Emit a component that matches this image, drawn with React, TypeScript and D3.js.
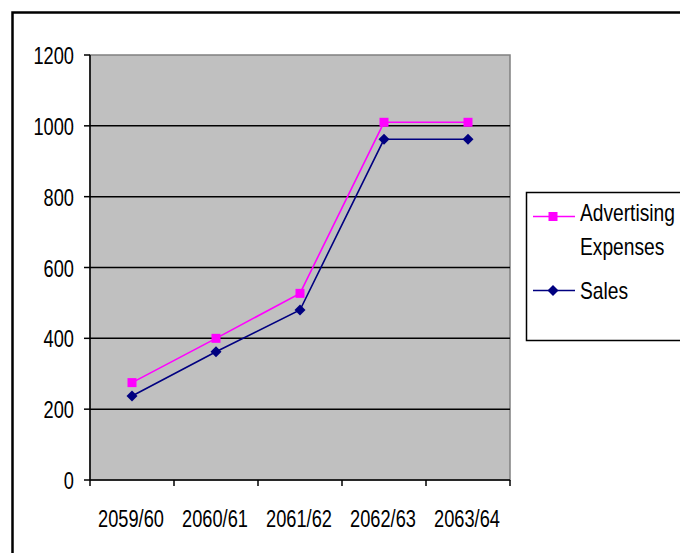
import React from "react";
import * as d3 from "d3";

const categories = ["2059/60", "2060/61", "2061/62", "2062/63", "2063/64"];
const advertising = [275, 400, 527, 1010, 1010];
const sales = [237, 362, 480, 962, 962];
const yTicks = [0, 200, 400, 600, 800, 1000, 1200];

const W = 680;
const H = 553;
const plot = { left: 90, right: 510, top: 55, bottom: 480 };
const FONT = "'Liberation Sans', Arial, sans-serif";

export default function App() {
  const x = d3
    .scaleBand<string>()
    .domain(categories)
    .range([plot.left, plot.right])
    .padding(0);
  const y = d3.scaleLinear().domain([0, 1200]).range([plot.bottom, plot.top]);
  const cx = (c: string) => (x(c) as number) + x.bandwidth() / 2;

  const line = d3
    .line<number>()
    .x((_, i) => cx(categories[i]))
    .y((d) => y(d));

  const diamond = (px: number, py: number, r: number) =>
    `M${px},${py - r}L${px + r},${py}L${px},${py + r}L${px - r},${py}Z`;

  const xEdges = categories.map((c) => x(c) as number).concat([plot.right]);

  return (
    <svg
      width={W}
      height={H}
      style={{ position: "absolute", left: 0, top: 0, background: "#fff" }}
      fontFamily={FONT}
    >
      {/* outer chart frame */}
      <rect x={12.5} y={12.5} width={W + 20} height={H + 20} fill="none" stroke="#000" strokeWidth={2.5} />

      {/* plot area */}
      <rect
        x={plot.left}
        y={plot.top}
        width={plot.right - plot.left}
        height={plot.bottom - plot.top}
        fill="#C0C0C0"
        stroke="#808080"
        strokeWidth={1.5}
      />

      {/* gridlines */}
      {yTicks
        .filter((t) => t > 0 && t < 1200)
        .map((t) => (
          <line key={t} x1={plot.left} x2={plot.right} y1={y(t)} y2={y(t)} stroke="#000" strokeWidth={1.5} />
        ))}

      {/* y axis */}
      <line x1={plot.left} x2={plot.left} y1={plot.top} y2={plot.bottom} stroke="#000" strokeWidth={1.5} />
      {yTicks.map((t) => (
        <g key={t}>
          <line x1={plot.left - 6} x2={plot.left} y1={y(t)} y2={y(t)} stroke="#000" strokeWidth={1.5} />
          <text
            transform={`translate(74,${y(t) + 9}) scale(0.76,1)`}
            textAnchor="end"
            fontSize={24}
            fill="#000"
          >
            {t}
          </text>
        </g>
      ))}

      {/* x axis */}
      <line x1={plot.left} x2={plot.right} y1={plot.bottom} y2={plot.bottom} stroke="#000" strokeWidth={1.5} />
      {xEdges.map((e, i) => (
        <line key={i} x1={e} x2={e} y1={plot.bottom} y2={plot.bottom + 6} stroke="#000" strokeWidth={1.5} />
      ))}
      {categories.map((c) => (
        <text
          key={c}
          transform={`translate(${cx(c) - 1},527) scale(0.76,1)`}
          textAnchor="middle"
          fontSize={24}
          fill="#000"
        >
          {c}
        </text>
      ))}

      {/* series */}
      <path d={line(advertising) ?? ""} fill="none" stroke="#FF00FF" strokeWidth={1.6} />
      <path d={line(sales) ?? ""} fill="none" stroke="#000080" strokeWidth={1.6} />
      {advertising.map((v, i) => (
        <rect key={i} x={cx(categories[i]) - 4.5} y={y(v) - 4.5} width={9} height={9} fill="#FF00FF" />
      ))}
      {sales.map((v, i) => (
        <path key={i} d={diamond(cx(categories[i]), y(v), 5.5)} fill="#000080" />
      ))}

      {/* legend */}
      <rect x={526.5} y={192.5} width={W} height={148} fill="#fff" stroke="#000" strokeWidth={1.5} />
      <line x1={533} x2={575} y1={216.5} y2={216.5} stroke="#FF00FF" strokeWidth={1.6} />
      <rect x={548.5} y={212} width={9} height={9} fill="#FF00FF" />
      <text transform="translate(580,221) scale(0.8,1)" fontSize={24} fill="#000">
        Advertising
      </text>
      <text transform="translate(580,255) scale(0.8,1)" fontSize={24} fill="#000">
        Expenses
      </text>
      <line x1={533} x2={575} y1={290.5} y2={290.5} stroke="#000080" strokeWidth={1.6} />
      <path d={diamond(553, 290.5, 5.5)} fill="#000080" />
      <text transform="translate(580,299) scale(0.8,1)" fontSize={24} fill="#000">
        Sales
      </text>
    </svg>
  );
}
